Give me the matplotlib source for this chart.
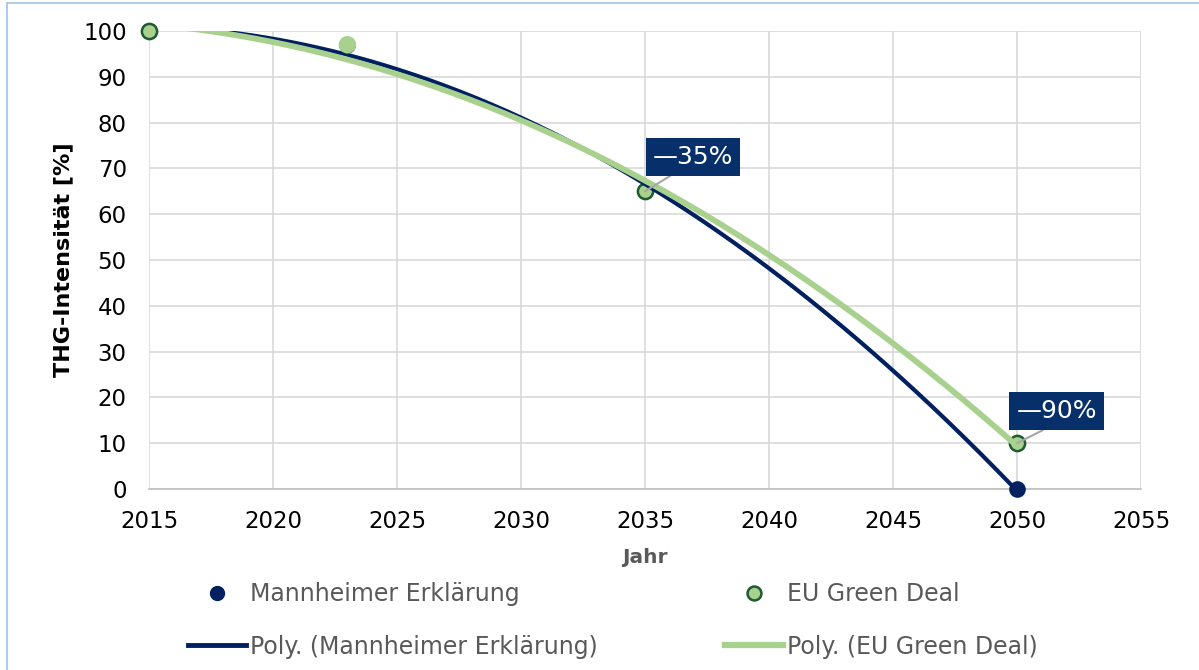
import numpy as np
import matplotlib
matplotlib.use("Agg")
import matplotlib.pyplot as plt
from matplotlib.lines import Line2D
from matplotlib.patches import Rectangle

plt.rcParams['font.family'] = ['DejaVu Sans']

# Data
years = [2015, 2023, 2035, 2050]
mannheimer = [100, 97, 65, 0]
green_deal = [100, 97, 65, 10]
label_35 = "\u201435%"
label_90 = "\u201490%"

x_ticks = [2015, 2020, 2025, 2030, 2035, 2040, 2045, 2050, 2055]
y_ticks = [0, 10, 20, 30, 40, 50, 60, 70, 80, 90, 100]

NAVY = "#002060"
GREEN = "#a9d18e"
GREEN_EDGE = "#1e5b32"
BOX = "#07306a"
GREY_TXT = "#595959"

W, H = 1199, 670
fig = plt.figure(figsize=(W / 100, H / 100), dpi=100)
ax = fig.add_axes([149 / W, 1 - 489 / H, (1141 - 149) / W, (489 - 31) / H])

# Scatter points
ax.scatter(years, mannheimer, s=120, color=NAVY, zorder=3, clip_on=False)
yr = np.array(years)
gd = np.array(green_deal)
ring = yr != 2023
ax.scatter(yr[ring], gd[ring], s=120, facecolor=GREEN, edgecolor=GREEN_EDGE,
           linewidth=1.8, zorder=4, clip_on=False)
ax.scatter(yr[~ring], gd[~ring], s=160, facecolor=GREEN, edgecolor="none",
           zorder=7, clip_on=False)

# Second-order polynomial trendlines over the data range
xs = np.linspace(years[0], years[-1], 400)
x0 = years[0]
pm = np.polyfit(np.array(years) - x0, mannheimer, 2)
pg = np.polyfit(np.array(years) - x0, green_deal, 2)
ax.plot(xs, np.polyval(pm, xs - x0), color=NAVY, lw=3.0, zorder=5)
ax.plot(xs, np.polyval(pg, xs - x0), color=GREEN, lw=4.2, zorder=5)

ax.set_xlim(2015, 2055)
ax.set_ylim(0, 100)
ax.set_xticks(x_ticks)
ax.set_yticks(y_ticks)
ax.grid(True, color="#d9d9d9", lw=1.2, zorder=0)
ax.set_axisbelow(True)
for side in ["top", "right", "left"]:
    ax.spines[side].set_visible(False)
ax.spines["bottom"].set_color("#bfbfbf")
ax.spines["bottom"].set_linewidth(1.2)
ax.tick_params(length=0, labelsize=16.5, colors="#000000")
ax.tick_params(axis="y", pad=16)
ax.tick_params(axis="x", pad=15)

ax.set_xlabel("Jahr", fontsize=14.5, fontweight="bold", color=GREY_TXT, labelpad=11)
ax.set_ylabel("THG-Intensität [%]", fontsize=16, fontweight="bold", labelpad=7)

# Value callouts
box = dict(boxstyle="square,pad=0.28", fc=BOX, ec="none")
arrow = dict(arrowstyle="-", color="#a6a6a6", lw=1.5, shrinkA=0, shrinkB=0)
ax.annotate(label_35, xy=(years[2], green_deal[2]), xytext=(2036.93, 72.5),
            ha="center", va="center", fontsize=18, color="white", bbox=box,
            arrowprops=dict(arrow, relpos=(0.36, 0)), zorder=6)
ax.annotate(label_90, xy=(years[3], green_deal[3]), xytext=(2051.6, 17.0),
            ha="center", va="center", fontsize=18, color="white", bbox=box,
            arrowprops=dict(arrow, relpos=(0.5, 0)), zorder=6)

# Legend
handles = [
    Line2D([], [], ls="none", marker="o", ms=10, color=NAVY),
    Line2D([], [], color=NAVY, lw=3.5),
    Line2D([], [], ls="none", marker="o", ms=10, mfc=GREEN, mec=GREEN_EDGE, mew=1.8),
    Line2D([], [], color=GREEN, lw=4.5),
]
labels = ["Mannheimer Erklärung", "Poly. (Mannheimer Erklärung)",
          "EU Green Deal", "Poly. (EU Green Deal)"]
leg = fig.legend(handles, labels, ncol=2, loc="center left",
                 bbox_to_anchor=(188 / W, 1 - 620.5 / H), frameon=False,
                 fontsize=17, handlelength=2.46, handletextpad=0.17,
                 columnspacing=5.4, labelspacing=1.2, borderpad=0,
                 borderaxespad=0)
for t in leg.get_texts():
    t.set_color(GREY_TXT)

# Outer frame
fig.patches.append(Rectangle((7 / W, -0.01), 1.01, 1 - 3 / H + 0.01,
                             transform=fig.transFigure, fill=False,
                             ec="#9dc3e6", lw=1.2))

fig.savefig("out.png", dpi=100)
